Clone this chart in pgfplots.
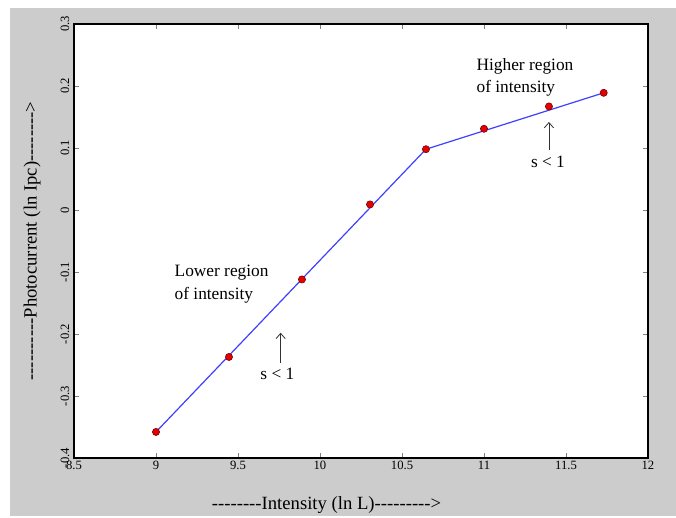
\documentclass[border=0pt]{standalone}
\usepackage{fontspec}
\setmainfont{Liberation Serif}
\usepackage{pgfplots}
\pgfplotsset{compat=1.18}
\usetikzlibrary{arrows.meta}
\definecolor{bg}{RGB}{204,204,204}
\definecolor{lineblue}{RGB}{64,64,255}
\definecolor{dotred}{RGB}{230,0,0}

% hyphens kept apart so they do not ligate into dashes
\newcommand\hy[1]{\foreach \i in {1,...,#1}{-\kern0pt}}

\begin{document}
\begin{tikzpicture}
% page 676x516 px, 1px = 0.75pt
\fill[white] (0pt,0pt) rectangle (507pt,387pt);
\fill[bg] (7.5pt,0pt) rectangle (507pt,381pt);
\begin{axis}[
  at={(55.5pt,43.5pt)}, anchor=south west,
  scale only axis,
  width=430.5pt, height=325.5pt,
  xmin=8.5, xmax=12,
  ymin=-0.4, ymax=0.3,
  xtick={8.5,9,...,12},
  ytick={-0.4,-0.3,...,0.3},
  tick align=inside,
  major tick length=4pt,
  tick style={gray, thin},
  axis line style={black, line width=1.4pt},
  axis background/.style={fill=white},
  /pgf/number format/assume math mode=true,
  /pgf/number format/fixed,
  ticklabel style={font=\fontsize{9.5}{10}\selectfont},
  yticklabel style={rotate=90, anchor=south, xshift=0pt},
  xticklabel style={yshift=1pt},
  xlabel={\hy{8}Intensity (ln L)\hy{9}>},
  ylabel={\hy{10}Photocurrent (ln Ipc)\hy{8}>},
  label style={font=\fontsize{14}{16}\selectfont},
  xlabel style={at={(axis description cs:0.44,-0.108)}, anchor=center},
  ylabel style={at={(axis description cs:-0.073,0.5)}, anchor=center, rotate=0},
]
% fitted two-segment line
\addplot[lineblue, line width=0.9pt] coordinates {
  (9.0,-0.358)(10.646,0.098)(11.73,0.189)
};
% measured points
\addplot[only marks, mark=*, mark size=2.7pt,
  mark options={fill=dotred, draw=black!60!red, line width=0.4pt}] coordinates {
  (9.0,-0.358)(9.445,-0.237)(9.89,-0.112)(10.305,0.009)
  (10.646,0.098)(11.0,0.131)(11.396,0.167)(11.73,0.189)
};
\draw[-{Straight Barb[length=4pt,width=7pt]}, black!80, semithick]
  (axis cs:9.76,-0.247) -- (axis cs:9.76,-0.198);
\draw[-{Straight Barb[length=4pt,width=7pt]}, black!80, semithick]
  (axis cs:11.396,0.096) -- (axis cs:11.396,0.142);
\node[align=left, font=\fontsize{13}{17}\selectfont] at (axis cs:9.40,-0.12)
  {Lower region\\of intensity};
\node[font=\fontsize{13}{15}\selectfont] at (axis cs:9.74,-0.264) {s < 1};
\node[align=left, font=\fontsize{13}{17}\selectfont] at (axis cs:11.25,0.214)
  {Higher region\\of intensity};
\node[font=\fontsize{13}{15}\selectfont] at (axis cs:11.39,0.078) {s < 1};
\end{axis}
\end{tikzpicture}
\end{document}
